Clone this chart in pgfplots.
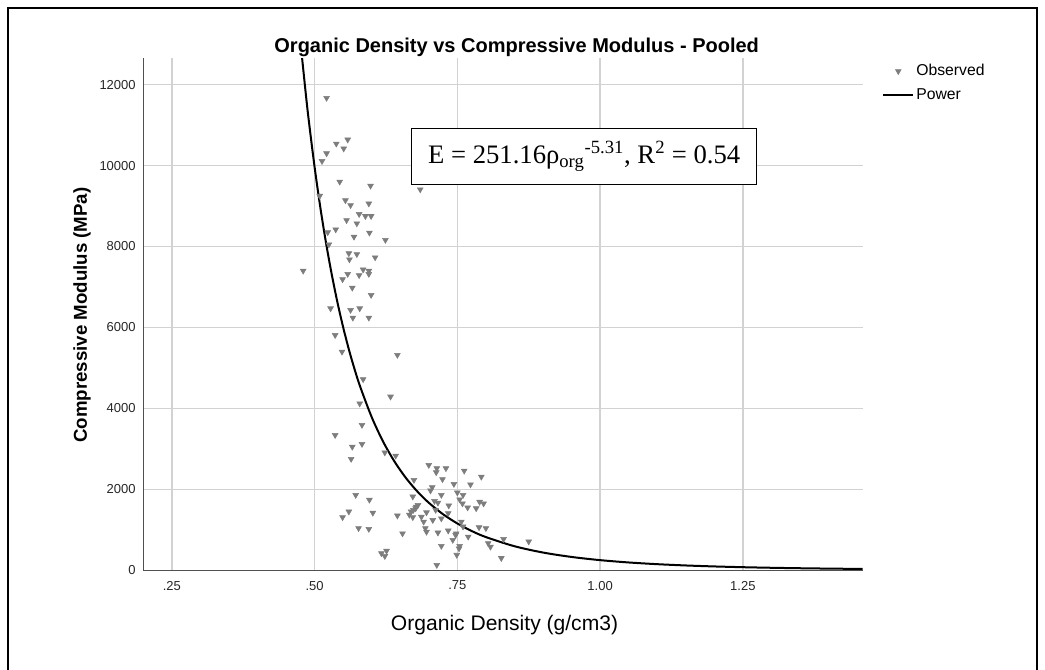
\documentclass[border=0pt]{standalone}
\usepackage{fontspec}
\setmainfont{Liberation Sans}
\newfontfamily\timesf{Liberation Serif}
\usepackage{pgfplots}
\pgfplotsset{compat=1.18}
\usepackage{pgfplotstable}
\definecolor{gridc}{RGB}{210,210,210}
\definecolor{axc}{RGB}{80,80,80}
\definecolor{markc}{RGB}{125,125,125}

\pgfplotstableread{
x y
0.521 11670
0.538 10540
0.558 10640
0.551 10420
0.521 10300
0.513 10110
0.544 9600
0.598 9500
0.509 9250
0.554 9140
0.563 9020
0.595 9060
0.685 9410
0.578 8800
0.589 8750
0.599 8750
0.556 8650
0.574 8570
0.523 8350
0.537 8420
0.596 8340
0.569 8240
0.624 8160
0.525 8050
0.560 7830
0.574 7810
0.561 7680
0.606 7730
0.480 7400
0.585 7430
0.595 7400
0.558 7320
0.578 7290
0.595 7320
0.549 7190
0.566 6980
0.599 6800
0.528 6470
0.563 6430
0.579 6470
0.567 6240
0.595 6240
0.536 5810
0.548 5400
0.645 5320
0.585 4720
0.633 4290
0.579 4120
0.583 3590
0.536 3340
0.566 3050
0.583 3120
0.564 2750
0.623 2910
0.642 2830
0.674 2230
0.572 1860
0.596 1740
0.560 1450
0.549 1310
0.602 1420
0.645 1350
0.666 1370
0.673 1490
0.678 1570
0.672 1310
0.577 1040
0.595 1020
0.654 910
0.617 420
0.626 480
0.623 350
0.700 2600
0.714 2520
0.730 2520
0.713 2420
0.762 2460
0.724 2250
0.744 2130
0.773 2120
0.792 2310
0.706 2050
0.703 1970
0.750 1920
0.760 1860
0.722 1860
0.672 1820
0.710 1710
0.716 1670
0.754 1750
0.759 1650
0.789 1690
0.796 1650
0.735 1600
0.768 1550
0.783 1530
0.681 1610
0.677 1530
0.669 1450
0.696 1430
0.712 1490
0.734 1410
0.687 1320
0.707 1240
0.691 1200
0.722 1280
0.757 1200
0.760 1080
0.788 1060
0.800 1040
0.694 1040
0.696 950
0.716 930
0.734 980
0.748 910
0.769 830
0.742 750
0.804 670
0.808 580
0.831 770
0.875 710
0.722 600
0.754 600
0.749 380
0.827 300
0.714 130
0.753 540
0.747 870
}\observed

\pgfplotstableread{
x y
0.475 13078
0.485 11717
0.49 11091
0.50 9963
0.51 8969
0.52 8090
0.53 7313
0.54 6621
0.55 6007
0.56 5458
0.57 4969
0.58 4531
0.60 3785
0.62 3179
0.64 2686
0.66 2281
0.68 1947
0.70 1669
0.725 1385
0.75 1157
0.775 972
0.80 821
0.85 595
0.90 439
0.95 330
1.00 251.2
1.05 193.8
1.10 151.4
1.15 119.6
1.20 95.4
1.25 76.8
1.30 62.4
1.35 51.0
1.40 42.1
1.46 33.7
}\power

\begin{document}
\begin{tikzpicture}
\path[use as bounding box] (0pt,0pt) rectangle (783.75pt,-502.5pt);
\draw[line width=1.1pt] (6pt,-510pt) -- (6pt,-6pt) -- (777.75pt,-6pt) -- (777.75pt,-510pt);
\begin{axis}[
  at={(107.475pt,-427.725pt)}, anchor=south west,
  scale only axis, width=540pt, height=384pt,
  xmin=0.2, xmax=1.461, ymin=0, ymax=12650,
  axis lines=left, axis line style={-, color=axc, line width=1pt},
  major tick length=0pt,
  grid=major, major grid style={color=gridc, line width=1.1pt},
  xtick={0.25,0.5,0.75,1,1.25},
  xticklabels={.25,.50,.75,1.00,1.25},
  ytick={0,2000,4000,6000,8000,10000,12000},
  yticklabels={0,2000,4000,6000,8000,10000,12000},
  scaled ticks=false,
  /pgf/number format/assume math mode=true,
  ticklabel style={font=\fontsize{9.75}{12}\selectfont, color=black!85},
  xticklabel style={yshift=-4.5pt},
  yticklabel style={xshift=-2.2pt},
  title={Organic Density vs Compressive Modulus - Pooled},
  title style={font=\bfseries\fontsize{15}{18}\selectfont, at={(axis description cs:0.5186,1.005)}, anchor=center, yshift=0pt},
  xlabel={Organic Density (g/cm3)},
  xlabel style={font=\fontsize{15.8}{19}\selectfont, at={(axis description cs:0.5017,-0.1075)}, anchor=center},
  ylabel={Compressive Modulus (MPa)},
  ylabel style={font=\bfseries\fontsize{14}{17}\selectfont, at={(axis description cs:-0.085,0.4986)}, anchor=center},
  legend image code/.code={\draw[mark repeat=2,mark phase=2,#1] plot coordinates {(0pt,0pt) (11.25pt,0pt) (22.5pt,0pt)};},
  legend style={draw=none, fill=none, at={(axis description cs:1.026,0.991)}, anchor=north west,
    font=\fontsize{11.8}{13}\selectfont, inner xsep=0pt, inner ysep=0pt, row sep=5.75pt,
    nodes={inner xsep=1.5pt, inner ysep=1pt}},
  legend cell align=left,
  clip=true,
]
\addplot[only marks, mark=triangle*, mark size=2.5pt, mark options={rotate=180, fill=markc, draw=markc}] table[x=x,y=y] {\observed};
\addlegendentry{Observed}
\addplot[black, line width=1.5pt, smooth] table[x=x,y=y] {\power};
\addlegendentry{Power}
\node[draw=black, line width=0.8pt, fill=white, minimum width=258.75pt, minimum height=42pt, inner sep=0pt, font=\timesf\fontsize{20}{24}\selectfont] at (axis cs:0.9722,10230) {E = 251.16ρ\textsubscript{org}\textsuperscript{-5.31}, R\textsuperscript{2} = 0.54};
\end{axis}
\end{tikzpicture}
\end{document}
